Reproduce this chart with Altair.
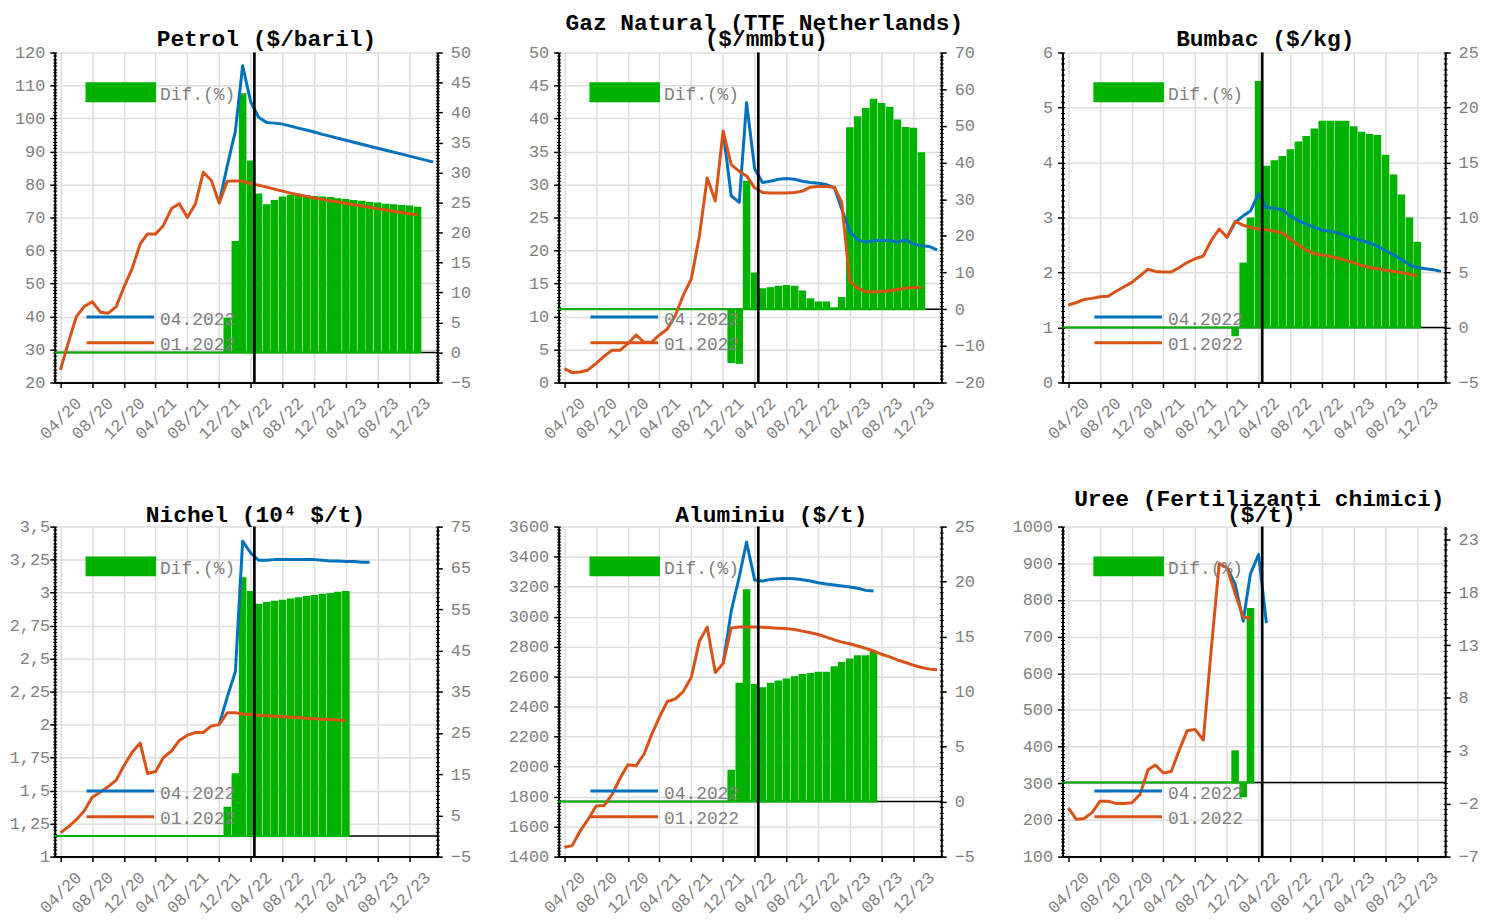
import altair as alt
import pandas as pd

# ------------------------------------------------------------------
# Monthly values.
# "01.2022" forecast (orange) starts 04/2020, "04.2022" forecast (blue)
# starts 12/2021, "Dif.(%)" bars start 01/2022.
# ------------------------------------------------------------------
JAN_START = "2020-04-01"
APR_START = "2021-12-01"
DIF_START = "2022-01-01"
FORECAST_MARK = "2022-04-15"
X_FIRST = "2020-03-10"
X_LAST = "2024-03-17"
X_TICK_LABELS = ["04/20", "08/20", "12/20", "04/21", "08/21", "12/21",
                 "04/22", "08/22", "12/22", "04/23", "08/23", "12/23"]
LEGEND_DIF = "Dif.(%)"
LEGEND_APR = "04.2022"
LEGEND_JAN = "01.2022"

# --- Petrol ($/baril)
petrol_jan = [23.8, 32.0, 40.0, 43.0, 44.5, 41.3, 41.0, 43.0, 49.0, 54.5, 62.0, 65.0,
              65.0, 67.6, 72.7, 74.2, 70.0, 74.2, 83.7, 81.2, 74.4, 81.0, 81.1, 81.0,
              80.3, 79.8, 79.2, 78.6, 78.0, 77.4, 76.9, 76.4, 75.9, 75.5, 75.1, 74.7,
              74.3, 73.9, 73.5, 73.1, 72.7, 72.3, 71.9, 71.5, 71.1, 70.8]
petrol_apr = [74.4, 85.7, 96.2, 116.0, 105.0, 100.4, 98.8, 98.6, 98.3, 97.7, 97.1, 96.5,
              95.9, 95.2, 94.6, 94.0, 93.4, 92.8, 92.2, 91.6, 91.0, 90.4, 89.8, 89.2,
              88.6, 88.0, 87.4, 86.8]
petrol_dif = [5.8, 18.6, 43.2, 32.0, 26.5, 24.7, 25.4, 26.0, 26.3, 26.3, 26.2, 26.1,
              26.0, 25.9, 25.7, 25.6, 25.4, 25.3, 25.1, 25.0, 24.8, 24.7, 24.6, 24.5, 24.3]

# --- Gaz natural (TTF Netherlands) ($/mmbtu)
gaz_jan = [2.1, 1.5, 1.6, 1.9, 2.9, 4.0, 4.9, 4.9, 5.9, 7.2, 6.1, 6.1,
           7.2, 8.1, 10.2, 13.2, 15.7, 22.2, 31.0, 27.5, 38.1, 33.0, 32.0, 31.3,
           29.5, 28.8, 28.7, 28.7, 28.7, 28.8, 29.0, 29.6, 29.7, 29.7, 29.6, 27.3,
           15.3, 14.3, 13.8, 13.7, 13.8, 13.9, 14.1, 14.3, 14.4, 14.4]
gaz_apr = [38.1, 28.3, 27.3, 42.4, 32.4, 30.3, 30.5, 30.8, 30.9, 30.8, 30.5, 30.3,
           30.2, 30.0, 29.5, 26.3, 22.9, 21.6, 21.3, 21.5, 21.5, 21.5, 21.3, 21.6,
           21.0, 20.7, 20.6, 20.1]
gaz_dif = [-14.7, -14.9, 35.0, 10.0, 5.7, 6.0, 6.4, 6.6, 6.4, 5.1, 3.0, 2.1,
           2.1, 0.5, 3.3, 49.6, 52.6, 54.9, 57.4, 56.2, 55.2, 51.7, 49.7, 49.5, 42.8]

# --- Bumbac ($/kg)
bumbac_jan = [1.41, 1.45, 1.51, 1.53, 1.56, 1.57, 1.66, 1.74, 1.82, 1.94, 2.06, 2.02,
              2.01, 2.01, 2.09, 2.18, 2.25, 2.30, 2.58, 2.79, 2.64, 2.93, 2.86, 2.82,
              2.79, 2.78, 2.75, 2.72, 2.61, 2.50, 2.41, 2.34, 2.32, 2.29, 2.26, 2.22,
              2.18, 2.13, 2.09, 2.07, 2.04, 2.02, 2.00, 1.97, 1.94]
bumbac_apr = [2.64, 2.91, 3.03, 3.12, 3.43, 3.18, 3.17, 3.14, 3.03, 2.94, 2.88, 2.82,
              2.77, 2.75, 2.72, 2.67, 2.62, 2.58, 2.54, 2.48, 2.40, 2.32, 2.24, 2.14,
              2.09, 2.07, 2.05, 2.02]
bumbac_dif = [-0.8, 5.9, 10.0, 22.4, 14.7, 15.2, 15.6, 16.2, 16.9, 17.4, 18.1, 18.8,
              18.8, 18.8, 18.8, 18.3, 17.8, 17.6, 17.5, 15.7, 13.9, 12.1, 10.0, 7.8]

# --- Nichel (10^4 $/t)
nichel_jan = [1.18, 1.225, 1.28, 1.345, 1.45, 1.49, 1.53, 1.58, 1.69, 1.79, 1.86, 1.63,
              1.645, 1.75, 1.80, 1.88, 1.92, 1.94, 1.94, 1.99, 2.00, 2.09, 2.09, 2.08,
              2.075, 2.071, 2.068, 2.064, 2.06, 2.056, 2.053, 2.049, 2.045, 2.041, 2.038,
              2.034, 2.03]
nichel_apr = [2.00, 2.21, 2.40, 3.39, 3.30, 3.245, 3.245, 3.25, 3.25, 3.25, 3.25, 3.25,
              3.25, 3.245, 3.24, 3.24, 3.235, 3.235, 3.23, 3.23]
nichel_dif = [7.1, 15.2, 62.7, 59.4, 56.3, 56.7, 57.0, 57.3, 57.6, 57.9, 58.2, 58.4,
              58.7, 58.9, 59.2, 59.4]

# --- Aluminiu ($/t)
aluminiu_jan = [1462, 1473, 1572, 1649, 1737, 1741, 1814, 1924, 2012, 2005, 2084, 2210,
                2331, 2434, 2452, 2500, 2595, 2837, 2929, 2628, 2687, 2925, 2931, 2931,
                2931, 2929, 2925, 2922, 2920, 2914, 2903, 2892, 2881, 2863, 2845, 2830,
                2819, 2804, 2788, 2771, 2749, 2731, 2711, 2694, 2676, 2661, 2650, 2645]
aluminiu_apr = [2687, 3035, 3266, 3497, 3244, 3237, 3248, 3252, 3255, 3252, 3246, 3237,
                3226, 3217, 3211, 3204, 3197, 3189, 3175, 3171]
aluminiu_dif = [2.9, 10.8, 19.3, 10.7, 10.4, 10.8, 11.0, 11.2, 11.4, 11.6, 11.7, 11.8,
                11.8, 12.3, 12.7, 13.0, 13.3, 13.3, 13.7]

# --- Uree (fertilizanti chimici) ($/t)
uree_jan = [233, 202, 204, 220, 251, 251, 245, 245, 247, 269, 337, 350,
            328, 332, 391, 443, 447, 418, 661, 899, 888, 818, 753, 751]
uree_apr = [888, 843, 742, 872, 924, 737]
uree_dif = [3.05, -1.4, 16.5]

# axis ranges: (low, high, major step, minor step)
PANELS = [
    dict(title=["Petrol ($/baril)"], jan=petrol_jan, apr=petrol_apr, dif=petrol_dif,
         left=(20, 120, 10, 1), right=(-5, 50, 5, 0.5), comma=False, tx=213, lpad=5),
    dict(title=["Gaz Natural (TTF Netherlands)", "($/mmbtu)"], jan=gaz_jan, apr=gaz_apr,
         dif=gaz_dif, left=(0, 50, 5, 0.5), right=(-20, 70, 10, 1), comma=False, tx=207, lpad=5),
    dict(title=["Bumbac ($/kg)"], jan=bumbac_jan, apr=bumbac_apr, dif=bumbac_dif,
         left=(0, 6, 1, 0.1), right=(-5, 25, 5, 0.5), comma=False, tx=204, lpad=5),
    dict(title=["Nichel (10\u2074 $/t)"], jan=nichel_jan, apr=nichel_apr, dif=nichel_dif,
         left=(1, 3.5, 0.25, 0.025), right=(-5, 75, 10, 1), comma=True, tx=202, lpad=0),
    dict(title=["Aluminiu ($/t)"], jan=aluminiu_jan, apr=aluminiu_apr, dif=aluminiu_dif,
         left=(1400, 3600, 200, 20), right=(-5, 25, 5, 0.5), comma=False, tx=214, lpad=5),
    dict(title=["Uree (Fertilizan\u021bi chimici)", "($/t)"], jan=uree_jan, apr=uree_apr,
         dif=uree_dif, left=(100, 1000, 100, 10), right=(-7, 24.2, 5, 0.5), comma=False,
         tx=198, lpad=5),
]

# ------------------------------------------------------------------
W, H = 385, 332
FONT = "Liberation Mono"
BLUE = "#0072BD"
ORANGE = "#D95319"
GREEN = "#00B200"
LABEL = "#808080"
GRID = "#DEDEDE"
DUMMY = pd.DataFrame({"k": [0]})


def month_frame(values, start):
    return pd.DataFrame({"date": pd.date_range(start, periods=len(values), freq="MS"),
                         "v": values})


def dt(ts):
    ts = pd.Timestamp(ts)
    return alt.DateTime(year=int(ts.year), month=int(ts.month), date=int(ts.day))


def ticks(lo, hi, step):
    n = int(round((hi - lo) / step))
    vals = [round(lo + i * step, 6) for i in range(n + 1)]
    return [v for v in vals if v <= hi + 1e-9]


X_SCALE = alt.Scale(domain=[dt(X_FIRST), dt(X_LAST)], padding=0)
X_VALUES = [alt.DateTime(year=2000 + int(s[3:]), month=int(s[:2]), date=1) for s in X_TICK_LABELS]
X_AXIS = alt.Axis(values=X_VALUES, format="%m/%y", formatType="time", labelAngle=315,
                  labelAlign="center", labelBaseline="middle", labelPadding=31, tickSize=5,
                  tickWidth=1.5, tickColor="black", domainColor="black", domainWidth=2,
                  grid=True, gridColor=GRID, gridWidth=1.5, labelFont=FONT, labelFontSize=17,
                  labelColor=LABEL, labelFlush=False, labelOverlap=False, title=None)


def xenc(field):
    return alt.X(field, type="temporal", scale=X_SCALE, axis=X_AXIS)


def major_axis(orient, lo, hi, step, comma, pad, grid):
    expr = "format(datum.value, '~g')"
    if comma:
        expr = "replace(" + expr + ", '.', ',')"
    kw = dict(orient=orient, values=ticks(lo, hi, step), labelExpr=expr, title=None,
              tickSize=5, tickWidth=1.5, tickColor="black", domainColor="black",
              domainWidth=2, labelFont=FONT, labelFontSize=17, labelColor=LABEL,
              labelPadding=pad, labelOverlap=False, grid=grid)
    if grid:
        kw.update(gridColor=GRID, gridWidth=1.5)
    return alt.Axis(**kw)


def minor_axis(orient, lo, hi, step):
    return alt.Axis(orient=orient, values=ticks(lo, hi, step), labels=False, domain=False,
                    grid=False, tickSize=4, tickWidth=1, tickColor="black", offset=-2,
                    title=None)


def panel(p, row):
    jan = month_frame(p["jan"], JAN_START)
    apr = month_frame(p["apr"], APR_START)
    dif = month_frame(p["dif"], DIF_START)
    l_lo, l_hi, l_step, l_min = p["left"]
    r_lo, r_hi, r_step, r_min = p["right"]
    lscale = alt.Scale(domain=[l_lo, l_hi], nice=False, zero=False)
    rscale = alt.Scale(domain=[r_lo, r_hi], nice=False, zero=False)

    green_end = dif["date"].max() + pd.Timedelta(days=15)
    zero_df = pd.DataFrame({"x0": [pd.Timestamp(X_FIRST)], "x1": [green_end], "y": [0]})
    mark_df = pd.DataFrame({"d": [pd.Timestamp(FORECAST_MARK)]})

    zero_black = alt.Chart(zero_df).mark_rule(color="black", strokeWidth=1.5).encode(
        x=alt.value(0), x2=alt.value(W),
        y=alt.Y("y:Q", scale=rscale, axis=minor_axis("right", r_lo, r_hi, r_min)))
    zero_green = alt.Chart(zero_df).mark_rule(color=GREEN, strokeWidth=2).encode(
        x=xenc("x0"), x2=alt.X2("x1"),
        y=alt.Y("y:Q", scale=rscale, axis=None))
    bars = alt.Chart(dif).mark_bar(color=GREEN, size=7.6).encode(
        x=xenc("date"),
        y=alt.Y("v:Q", scale=rscale,
                axis=major_axis("right", r_lo, r_hi, r_step, False, 8, False)))
    blue = alt.Chart(apr).mark_line(color=BLUE, strokeWidth=3, strokeJoin="round").encode(
        x=xenc("date"),
        y=alt.Y("v:Q", scale=lscale,
                axis=major_axis("left", l_lo, l_hi, l_step, p["comma"], p["lpad"], True)))
    orange = alt.Chart(jan).mark_line(color=ORANGE, strokeWidth=3, strokeJoin="round").encode(
        x=xenc("date"),
        y=alt.Y("v:Q", scale=lscale, axis=minor_axis("left", l_lo, l_hi, l_min)))
    vline = alt.Chart(mark_df).mark_rule(color="black", strokeWidth=2.7).encode(x=xenc("d"))

    leg_rect = alt.Chart(DUMMY).mark_rect(color=GREEN).encode(
        x=alt.value(31), x2=alt.value(102), y=alt.value(30), y2=alt.value(50))
    leg_blue = alt.Chart(DUMMY).mark_rule(color=BLUE, strokeWidth=3).encode(
        x=alt.value(32), x2=alt.value(100), y=alt.value(266))
    leg_orange = alt.Chart(DUMMY).mark_rule(color=ORANGE, strokeWidth=3).encode(
        x=alt.value(32), x2=alt.value(100), y=alt.value(292))
    texts = []
    for txt, ty in [(LEGEND_DIF, 48), (LEGEND_APR, 274), (LEGEND_JAN, 299)]:
        texts.append(alt.Chart(DUMMY).mark_text(
            text=txt, align="left", baseline="alphabetic", font=FONT, fontSize=18,
            color=LABEL).encode(x=alt.value(106), y=alt.value(ty)))

    base_y = -7 if row == 0 else -4.5
    titles = []
    n = len(p["title"])
    for i, line in enumerate(p["title"]):
        titles.append(alt.Chart(DUMMY).mark_text(
            text=line, align="center", baseline="alphabetic", font=FONT, fontSize=23,
            fontWeight="bold", color="black").encode(
            x=alt.value(p["tx"] + (2 if i == n - 1 and n > 1 else 0)),
            y=alt.value(base_y - 16 * (n - 1 - i))))

    layers = [zero_black, zero_green, bars, blue, orange, vline,
              leg_rect, leg_blue, leg_orange] + texts + titles
    return alt.layer(*layers).resolve_scale(y="independent").properties(width=W, height=H)


charts = [panel(p, i // 3) for i, p in enumerate(PANELS)]
chart = alt.concat(*charts, columns=3, spacing={"row": 145, "column": 122},
                   bounds="flush").properties(
    padding={"left": 0, "top": 0, "right": 0, "bottom": 0}
).configure_view(stroke="transparent")

chart.save("out.html", embed_options={"renderer": "svg", "actions": False})
